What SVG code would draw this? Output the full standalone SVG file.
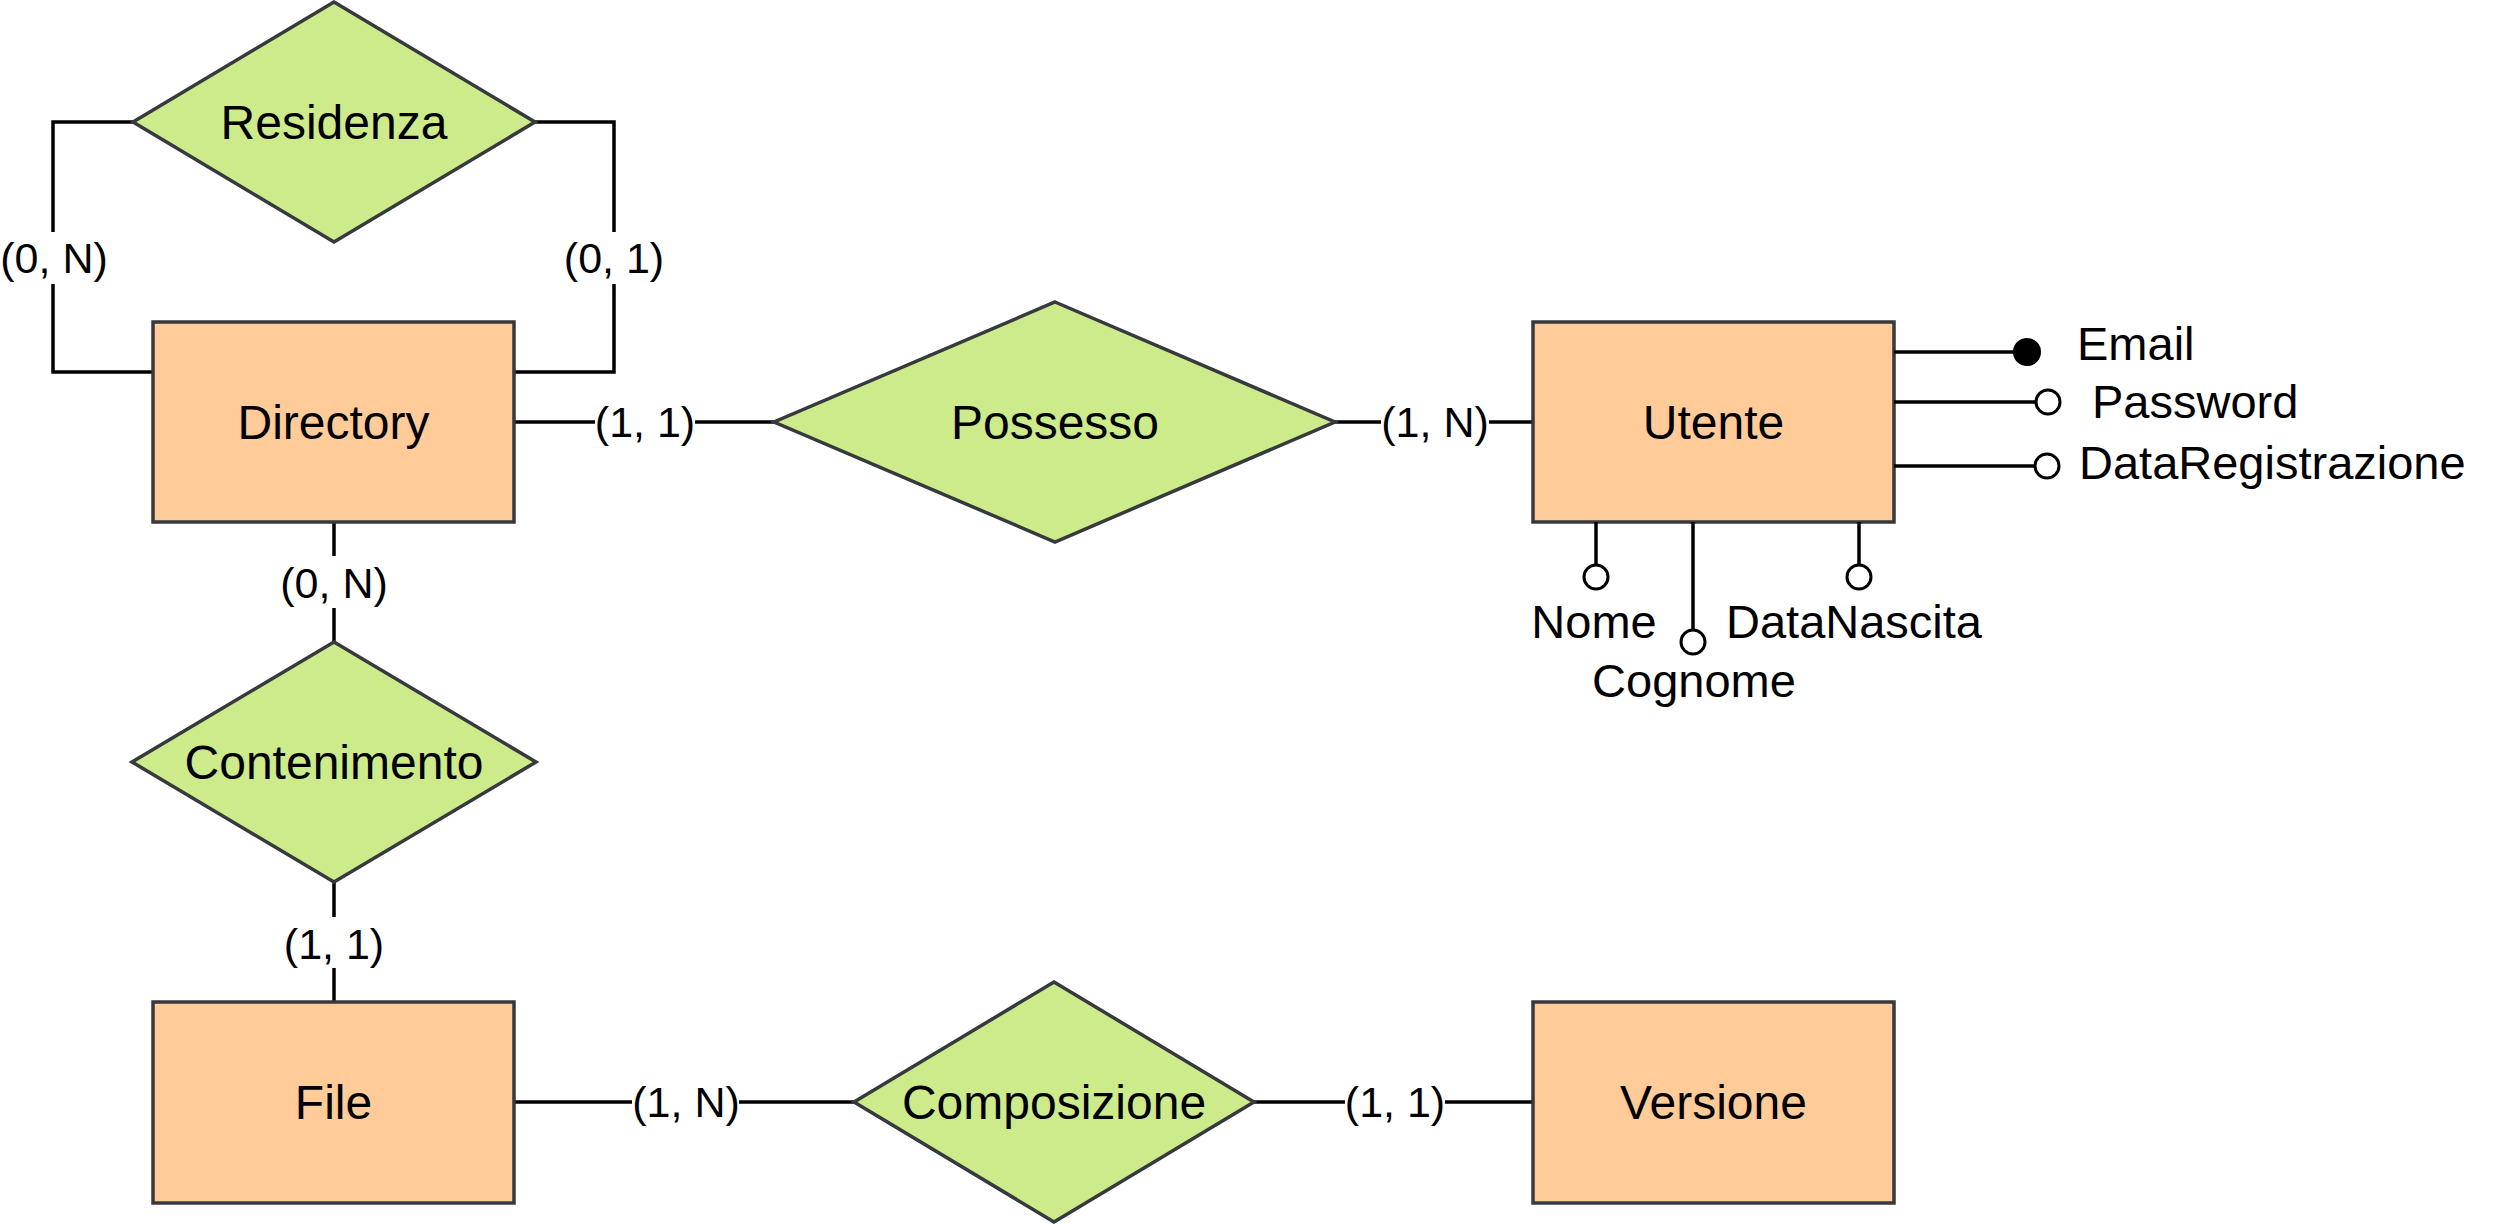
<svg xmlns="http://www.w3.org/2000/svg" width="2496" height="1224" viewBox="0 0 2496 1224">
<style>
  .ent { fill: #ffcc99; stroke: #36393d; stroke-width: 3.5; }
  .rel { fill: #cdeb8b; stroke: #36393d; stroke-width: 3.5; stroke-linejoin: miter; }
  .name { font-family: "Liberation Sans", Arial, Helvetica, sans-serif; font-size: 48px; fill: #000; text-anchor: middle; }
  .attr { font-family: "Liberation Sans", Arial, Helvetica, sans-serif; font-size: 47px; fill: #000; }
  .card { font-family: "Liberation Sans", Arial, Helvetica, sans-serif; font-size: 43px; fill: #000; text-anchor: middle; }
  .conn { fill: none; stroke: #000; stroke-width: 3.5; stroke-linejoin: miter; }
  .dot { fill: #000; stroke: #000; stroke-width: 3; }
  .odot { fill: #fff; stroke: #000; stroke-width: 3; }
</style>
<rect width="2496" height="1224" fill="#ffffff"/>

<g id="connectors">
  <!-- Residenza left to Directory -->
  <polyline class="conn" points="133,122 53,122 53,232"/>
  <polyline class="conn" points="53,284 53,372 153,372"/>
  <!-- Residenza right to Directory -->
  <polyline class="conn" points="535,122 614,122 614,232"/>
  <polyline class="conn" points="614,284 614,372 514,372"/>
  <!-- Directory - Possesso -->
  <line class="conn" x1="514" y1="422" x2="595" y2="422"/>
  <line class="conn" x1="695" y1="422" x2="774" y2="422"/>
  <!-- Possesso - Utente -->
  <line class="conn" x1="1335" y1="422" x2="1381" y2="422"/>
  <line class="conn" x1="1489" y1="422" x2="1533" y2="422"/>
  <!-- Directory - Contenimento -->
  <line class="conn" x1="334" y1="522" x2="334" y2="556"/>
  <line class="conn" x1="334" y1="608" x2="334" y2="642"/>
  <!-- Contenimento - File -->
  <line class="conn" x1="334" y1="882" x2="334" y2="917"/>
  <line class="conn" x1="334" y1="968" x2="334" y2="1002"/>
  <!-- File - Composizione -->
  <line class="conn" x1="514" y1="1102" x2="632" y2="1102"/>
  <line class="conn" x1="739" y1="1102" x2="854" y2="1102"/>
  <!-- Composizione - Versione -->
  <line class="conn" x1="1254" y1="1102" x2="1345" y2="1102"/>
  <line class="conn" x1="1445" y1="1102" x2="1533" y2="1102"/>
</g>

<g id="cardinalities">
  <text class="card" x="54" y="273">(0, N)</text>
  <text class="card" x="614" y="273">(0, 1)</text>
  <text class="card" x="645" y="437">(1, 1)</text>
  <text class="card" x="1435" y="437">(1, N)</text>
  <text class="card" x="334" y="598">(0, N)</text>
  <text class="card" x="334" y="959">(1, 1)</text>
  <text class="card" x="686" y="1117">(1, N)</text>
  <text class="card" x="1395" y="1117">(1, 1)</text>
</g>

<g id="residenza">
  <polygon class="rel" points="334,2 535,122 334,242 133,122"/>
  <text class="name" x="334" y="139">Residenza</text>
</g>

<g id="directory">
  <rect class="ent" x="153" y="322" width="361" height="200"/>
  <text class="name" x="333.5" y="439">Directory</text>
</g>

<g id="possesso">
  <polygon class="rel" points="1055,302 1335,422 1055,542 774,422"/>
  <text class="name" x="1055" y="439">Possesso</text>
</g>

<g id="utente">
  <rect class="ent" x="1533" y="322" width="361" height="200"/>
  <text class="name" x="1713.5" y="439">Utente</text>
</g>

<g id="utente-attributes">
  <line class="conn" x1="1894" y1="352" x2="2016" y2="352"/>
  <circle class="dot" cx="2027" cy="352" r="12.5"/>
  <text class="attr" x="2077" y="360">Email</text>

  <line class="conn" x1="1894" y1="402" x2="2036" y2="402"/>
  <circle class="odot" cx="2048" cy="402" r="12"/>
  <text class="attr" x="2092" y="418">Password</text>

  <line class="conn" x1="1894" y1="466" x2="2035" y2="466"/>
  <circle class="odot" cx="2047" cy="466" r="12"/>
  <text class="attr" x="2079" y="479">DataRegistrazione</text>

  <line class="conn" x1="1596" y1="522" x2="1596" y2="565"/>
  <circle class="odot" cx="1596" cy="577" r="12"/>
  <text class="attr" x="1594" y="638" text-anchor="middle">Nome</text>

  <line class="conn" x1="1693" y1="522" x2="1693" y2="630"/>
  <circle class="odot" cx="1693" cy="642" r="12"/>
  <text class="attr" x="1694" y="697" text-anchor="middle">Cognome</text>

  <line class="conn" x1="1859" y1="522" x2="1859" y2="565"/>
  <circle class="odot" cx="1859" cy="577" r="12"/>
  <text class="attr" x="1726" y="638">DataNascita</text>
</g>

<g id="contenimento">
  <polygon class="rel" points="334,642 536,762 334,882 132,762"/>
  <text class="name" x="334" y="779">Contenimento</text>
</g>

<g id="file">
  <rect class="ent" x="153" y="1002" width="361" height="201"/>
  <text class="name" x="333.5" y="1119">File</text>
</g>

<g id="composizione">
  <polygon class="rel" points="1054,982 1254,1102 1054,1222 854,1102"/>
  <text class="name" x="1054" y="1119">Composizione</text>
</g>

<g id="versione">
  <rect class="ent" x="1533" y="1002" width="361" height="201"/>
  <text class="name" x="1713.5" y="1119">Versione</text>
</g>
</svg>
